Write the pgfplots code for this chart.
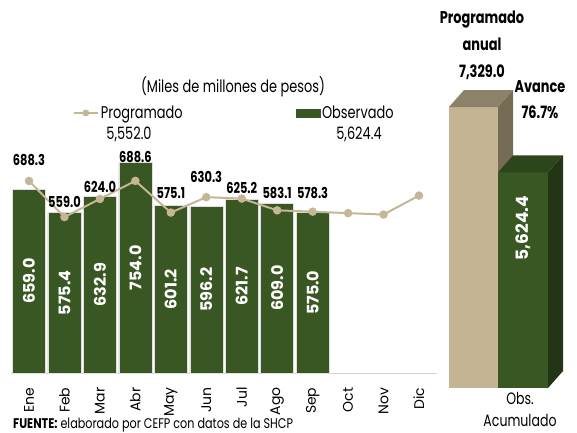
\documentclass[border=0pt]{standalone}
\usepackage{pgfplots}
\pgfplotsset{compat=1.18}
\usepackage{fontspec}
\setmainfont{Poppins}
\newfontfamily\cf{Poppins}[FakeStretch=0.76]
\newfontfamily\cfw{Poppins}[FakeStretch=0.8]
\definecolor{obs}{RGB}{56,87,35}
\definecolor{obstop}{RGB}{44,70,27}
\definecolor{obsside}{RGB}{34,54,21}
\definecolor{progtan}{RGB}{196,182,150}
\definecolor{tanfront}{RGB}{196,180,148}
\definecolor{tantop}{RGB}{140,130,106}
\definecolor{tanside}{RGB}{118,108,86}
\begin{document}
\begin{tikzpicture}
\useasboundingbox (0pt,0pt) rectangle (577pt,432pt);
\begin{axis}[
  at={(11.3pt,59pt)}, anchor=south west,
  scale only axis, width=425.4pt, height=223.2pt,
  xmin=-0.5, xmax=11.5, ymin=0, ymax=800,
  axis x line*=bottom, axis y line=none,
  x axis line style={draw=gray!35, line width=0.8pt, -},
  xtick={0,...,11},
  xticklabels={Ene,Feb,Mar,Abr,May,Jun,Jul,Ago,Sep,Oct,Nov,Dic},
  major tick length=0pt,
  xticklabel shift=11pt,
  x tick label style={rotate=90, anchor=east, font=\fontsize{14}{14}\selectfont},
  ytick=\empty,
  clip=false,
  legend columns=2,
  legend entries={Programado,Observado},
  legend style={at={(0.137,1.165)}, anchor=west, draw=none, fill=none,
    font=\cf\fontsize{17}{17}\selectfont,
    /tikz/every even column/.append style={column sep=111pt}},
]
\addlegendimage{legend image code/.code={\draw[progtan, line width=2pt] (0pt,0pt) -- (24pt,0pt); \fill[progtan] (12pt,0pt) circle (3.2pt);}}
\addlegendimage{legend image code/.code={\fill[obs] (0pt,-4pt) rectangle (24pt,4pt);}}
\addplot[ybar, bar width=33pt, fill=obs, draw=gray!25, line width=0.5pt, forget plot]
  coordinates {(0,659.0) (1,575.4) (2,632.9) (3,754.0) (4,601.2) (5,596.2) (6,621.7) (7,609.0) (8,575.0)};
\addplot[color=progtan, line width=2pt, mark=*, mark size=3.2pt, mark options={fill=progtan}, forget plot]
  coordinates {(0,688.3) (1,559.0) (2,624.0) (3,688.6) (4,575.1) (5,630.3) (6,625.2) (7,583.1) (8,578.3) (9,573) (10,568) (11,636)};
\addplot[draw=none, mark=none, forget plot, nodes near coords, point meta=explicit symbolic,
  every node near coord/.style={anchor=center, font=\cf\bfseries\fontsize{15}{15}\selectfont, text=black}]
  coordinates {(0,763)[688.3] (1,613)[559.0] (2,667)[624.0] (3,774)[688.6] (4,645)[575.1] (5,702)[630.3] (6,663)[625.2] (7,645)[583.1] (8,645)[578.3]};
\addplot[draw=none, mark=none, forget plot, nodes near coords, point meta=explicit symbolic,
  every node near coord/.style={anchor=center, rotate=90, font=\bfseries\fontsize{16}{16}\selectfont, text=white}]
  coordinates {(0,329.5)[659.0] (1,287.7)[575.4] (2,316.45)[632.9] (3,377)[754.0] (4,300.6)[601.2] (5,298.1)[596.2] (6,310.85)[621.7] (7,304.5)[609.0] (8,287.5)[575.0]};
\end{axis}
\begin{axis}[
  at={(440pt,44pt)}, anchor=south west,
  scale only axis, width=130pt, height=306.72pt,
  xmin=440, xmax=570, ymin=0, ymax=8000,
  axis lines=none, clip=false,
]
\addplot[fill=tanfront, draw=none] coordinates {(449,0) (498,0) (498,7329) (449,7329)};
\addplot[fill=tantop, draw=none] coordinates {(449,7329) (464,7772) (513,7772) (498,7329)};
\addplot[fill=tanside, draw=none] coordinates {(498,0) (513,443) (513,7772) (498,7329)};
\addplot[fill=obs, draw=none] coordinates {(498,0) (548,0) (548,5624.4) (498,5624.4)};
\addplot[fill=obstop, draw=none] coordinates {(498,5624.4) (513,6067.4) (563,6067.4) (548,5624.4)};
\addplot[fill=obsside, draw=none] coordinates {(548,0) (563,443) (563,6067.4) (548,5624.4)};
\addplot[draw=none, mark=none, nodes near coords, point meta=explicit symbolic,
  every node near coord/.style={anchor=center, rotate=90, font=\bfseries\fontsize{17}{17}\selectfont, text=white}]
  coordinates {(523,4170)[5{,}624.4]};
\end{axis}
\node[font=\cf\fontsize{17}{17}\selectfont] at (233pt,345pt) {(Miles de millones de pesos)};
\node[font=\cf\fontsize{17}{17}\selectfont] at (129pt,298pt) {5,552.0};
\node[font=\cf\fontsize{17}{17}\selectfont] at (359pt,298pt) {5,624.4};
\node[font=\cf\bfseries\fontsize{17}{27}\selectfont, align=center] at (482pt,387pt) {Programado\\anual\\7,329.0};
\node[font=\cf\bfseries\fontsize{17}{26}\selectfont, align=center] at (540pt,332pt) {Avance\\76.7\%};
\node[font=\cf\fontsize{16.5}{22}\selectfont, align=center] at (520pt,23pt) {Obs.\\Acumulado};
\node[font=\cfw\fontsize{14}{14}\selectfont, anchor=base west, inner sep=0pt] at (13pt,3.5pt) {\textbf{FUENTE:} elaborado por CEFP con datos de la SHCP};
\end{tikzpicture}
\end{document}
